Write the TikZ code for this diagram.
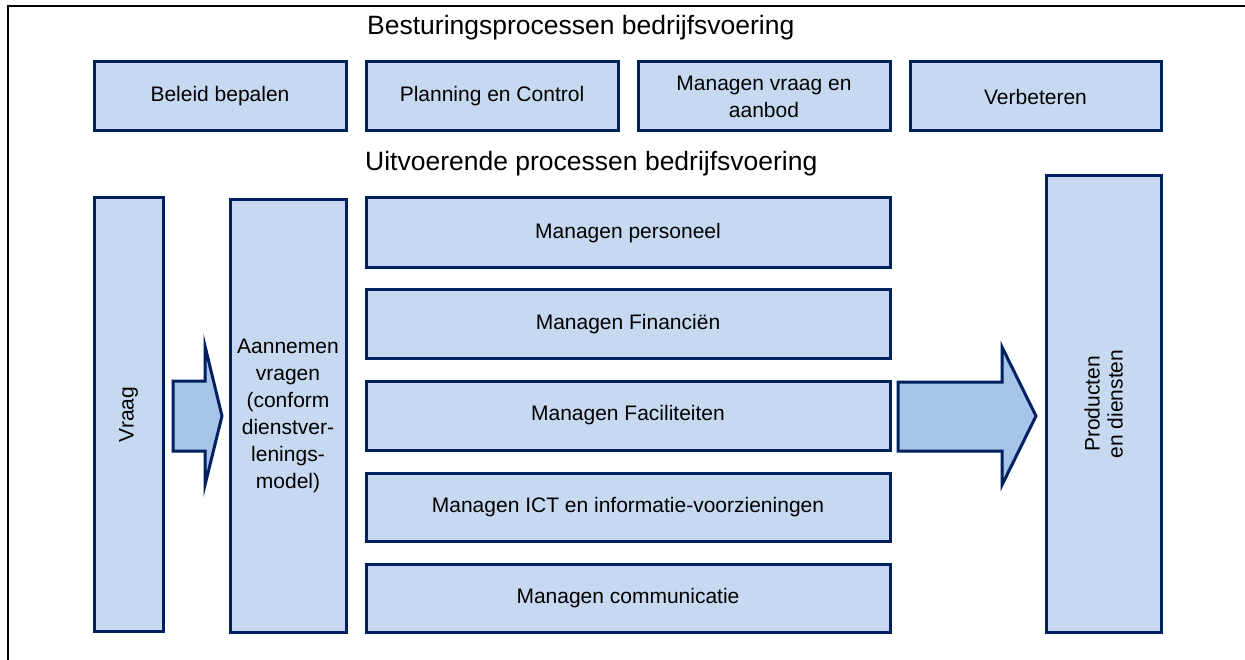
\documentclass[tikz,border=0pt]{standalone}
\usepackage{fontspec}
\setmainfont{Liberation Sans}
\definecolor{navy}{RGB}{0,32,96}
\definecolor{boxfill}{RGB}{198,217,240}
\definecolor{arrowfill}{RGB}{166,196,230}
\begin{document}
\begin{tikzpicture}[x=1pt,y=-1pt,
  pbox/.style={draw=navy,fill=boxfill,line width=3pt,inner sep=0pt,align=center,
    font=\fontsize{21}{27}\selectfont},
  title/.style={font=\fontsize{26.5}{30}\selectfont,anchor=west,inner sep=0pt},
  barrow/.style={draw=navy,fill=arrowfill,line width=3pt,line join=miter}]
\useasboundingbox (0,0) rectangle (1245,660);
\draw[line width=2.5pt] (8,660) -- (8,6) -- (1245,6);
\node[title] (t1) at (367,28) {Besturingsprocessen bedrijfsvoering};
\node[title] (t2) at (365,164) {Uitvoerende processen bedrijfsvoering};
% top row
\node[pbox,minimum width=252pt,minimum height=69pt] (beleid) at (220,96.5) {Beleid bepalen};
\node[pbox,minimum width=252pt,minimum height=69pt] (planning) at (492,96.5) {Planning en Control};
\node[pbox,minimum width=252pt,minimum height=69pt] (vraagaanbod) at (764,96.5) {Managen vraag en\\aanbod};
\node[pbox,minimum width=251pt,minimum height=69pt] (verbeteren) at (1035.5,96.5) {Verbeteren};
% bottom
\node[pbox,minimum width=69pt,minimum height=433pt] (vraag) at (128.5,414.5) {};
\node[rotate=90,font=\fontsize{21}{27}\selectfont] at (vraag.center) {Vraag};
\node[pbox,minimum width=116pt,minimum height=433pt,text width=112pt] (aannemen) at (288,416) {Aannemen\\vragen\\(conform\\dienstver-\\lenings-\\model)};
\node[pbox,minimum width=524pt,minimum height=70pt] (pers) at (628,233) {Managen personeel};
\node[pbox,minimum width=524pt,minimum height=68pt] (fin) at (628,324) {Managen Financiën};
\node[pbox,minimum width=524pt,minimum height=69pt] (fac) at (628,415.5) {Managen Faciliteiten};
\node[pbox,minimum width=524pt,minimum height=68pt] (ict) at (628,507) {Managen ICT en informatie-voorzieningen};
\node[pbox,minimum width=524pt,minimum height=68pt] (comm) at (628,598) {Managen communicatie};
\node[pbox,minimum width=115pt,minimum height=456pt] (prod) at (1103.5,404) {};
\node[rotate=90,align=center,font=\fontsize{21}{23}\selectfont] at (prod.center) {Producten\\en diensten};
% block arrows
\draw[barrow] (173,381) -- (205,381) -- (205,346) -- (222,416) -- (205,485) -- (205,451) -- (173,451) -- cycle;
\draw[barrow] (898,382) -- (1002,382) -- (1002,347) -- (1036,416) -- (1002,485) -- (1002,451) -- (898,451) -- cycle;
\end{tikzpicture}
\end{document}
